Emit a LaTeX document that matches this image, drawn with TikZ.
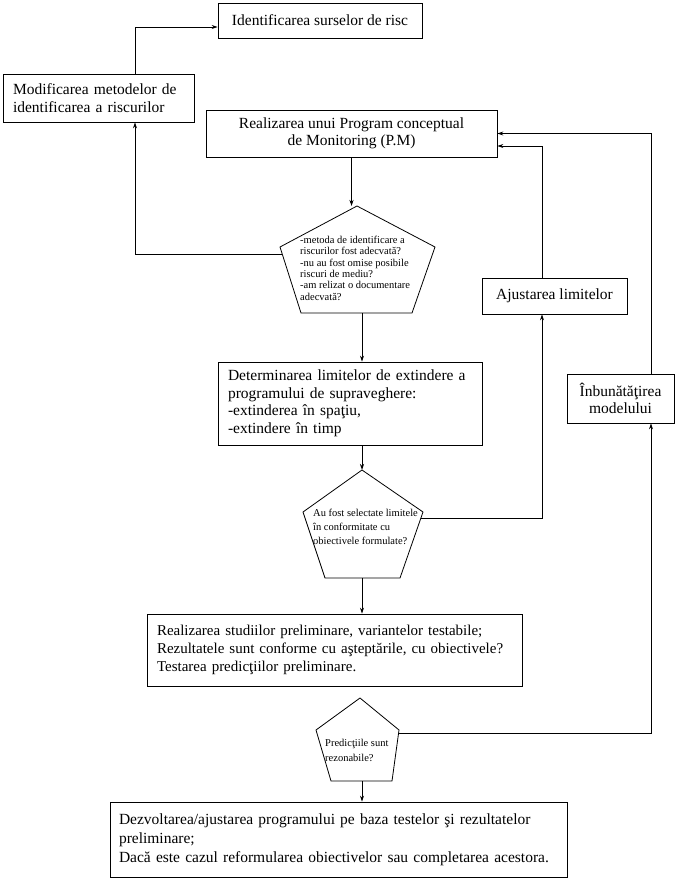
\documentclass[tikz,border=0pt]{standalone}
\usepackage{fontspec}
\setmainfont{Liberation Serif}
\usetikzlibrary{arrows.meta, calc}
\tikzset{
    procbox/.style={
        rectangle,
        draw,
        line width=0.8pt,
        inner xsep=10pt,
        inner ysep=3pt,
        font=\fontsize{15.5}{17.5}\selectfont
    },
    leftbox/.style={procbox, align=left},
    midbox/.style={procbox, align=center},
    asktext/.style={inner sep=0pt, align=left, anchor=north west, font=\fontsize{10.5}{11.3}\selectfont},
    pentline/.style={line width=0.8pt},
    flowarrow/.style={-{Stealth[length=6pt, width=4pt]}, line width=0.8pt}
}

\begin{document}
\begin{tikzpicture}[x=1pt, y=-1pt]
        \useasboundingbox (0,0) rectangle (678,882);

        % boxes
        \node[midbox, minimum width=204pt, minimum height=35pt] (ident) at (320,20.5) {Identificarea surselor de risc};
        \node[leftbox, text width=171pt, minimum height=48pt] (modif) at (98.5,98) {Modificarea metodelor de\\identificarea a riscurilor};
        \node[midbox, minimum width=291pt, minimum height=47pt] (pm) at (351.5,133.5) {Realizarea unui Program conceptual\\de Monitoring (P.M)};
        \node[leftbox, text width=244pt, minimum height=83pt] (det) at (350,403.5) {Determinarea limitelor de extindere a\\programului de supraveghere:\\-extinderea în spaţiu,\\-extindere în timp};
        \node[midbox, minimum width=145pt, minimum height=36pt] (ajust) at (554.5,296) {Ajustarea limitelor};
        \node[midbox, minimum width=107pt, minimum height=49pt, inner xsep=4pt] (imbun) at (620.5,398.5) {Înbunătăţirea\\modelului};
        \node[leftbox, text width=355pt, minimum height=72pt, font=\fontsize{15}{18}\selectfont] (stud) at (334.5,650) {Realizarea studiilor preliminare, variantelor testabile;\\Rezultatele sunt conforme cu aşteptările, cu obiectivele?\\Testarea predicţiilor preliminare.};
        \node[leftbox, text width=439pt, inner xsep=9pt, minimum height=75pt, font=\fontsize{15.5}{19}\selectfont] (final) at (338.5,839.5) {Dezvoltarea/ajustarea programului pe baza testelor şi rezultatelor\\preliminare;\\Dacă este cazul reformularea obiectivelor sau completarea acestora.};

        % decision pentagons
        \coordinate (p1t) at (357,206);
        \coordinate (p1r) at (435,247);
        \coordinate (p1br) at (412,313);
        \coordinate (p1bl) at (301,313);
        \coordinate (p1l) at (280,247);
        \coordinate (p1w) at (282,254);
        \coordinate (p1b) at (362,313);
        \draw[pentline] (p1t) -- (p1r) -- (p1br) -- (p1bl) -- (p1l) -- cycle;
        \node[asktext] (ask1) at (300,236) {-metoda de identificare a\\riscurilor fost adecvată?\\-nu au fost omise posibile\\riscuri de mediu?\\-am relizat o documentare\\adecvată?};

        \coordinate (p2t) at (362,470);
        \coordinate (p2r) at (423,512);
        \coordinate (p2br) at (400,578);
        \coordinate (p2bl) at (325,578);
        \coordinate (p2l) at (303,512);
        \coordinate (p2e) at (421,518);
        \coordinate (p2b) at (362,578);
        \draw[pentline] (p2t) -- (p2r) -- (p2br) -- (p2bl) -- (p2l) -- cycle;
        \node[asktext, font=\fontsize{10.5}{14}\selectfont] (ask2) at (313,509) {Au fost selectate limitele\\în conformitate cu\\obiectivele formulate?};

        \coordinate (p3t) at (360,698);
        \coordinate (p3r) at (399,730);
        \coordinate (p3br) at (392,781);
        \coordinate (p3bl) at (331,781);
        \coordinate (p3l) at (316,730);
        \coordinate (p3e) at (398.6,733);
        \coordinate (p3b) at (362,781);
        \draw[pentline] (p3t) -- (p3r) -- (p3br) -- (p3bl) -- (p3l) -- cycle;
        \node[asktext, font=\fontsize{10.5}{15}\selectfont] (ask3) at (325,739) {Predicţiile sunt\\rezonabile?};

        % connectors
        \draw[flowarrow] ([xshift=36.5pt]modif.north) |- ([yshift=-6.5pt]ident.west);
        \draw[flowarrow] (pm.south) -- (pm.south |- p1t);
        \draw[flowarrow] (p1w) -| ([xshift=36.5pt]modif.south);
        \draw[flowarrow] (p1b) -- (p1b |- det.north);
        \draw[flowarrow] (p2t |- det.south) -- (p2t);
        \draw[flowarrow] (p2e) -| ([xshift=-12.5pt]ajust.south);
        \draw[flowarrow] ([xshift=-12.5pt]ajust.north) |- ([yshift=-12.5pt]pm.east);
        \draw[flowarrow] ([xshift=30.5pt]imbun.north) |- (pm.east);
        \draw[flowarrow] (p2b) -- (p2b |- stud.north);
        \draw[flowarrow] (p3e) -| ([xshift=30.5pt]imbun.south);
        \draw[flowarrow] (p3b) -- (p3b |- final.north);
    \end{tikzpicture}
\end{document}
